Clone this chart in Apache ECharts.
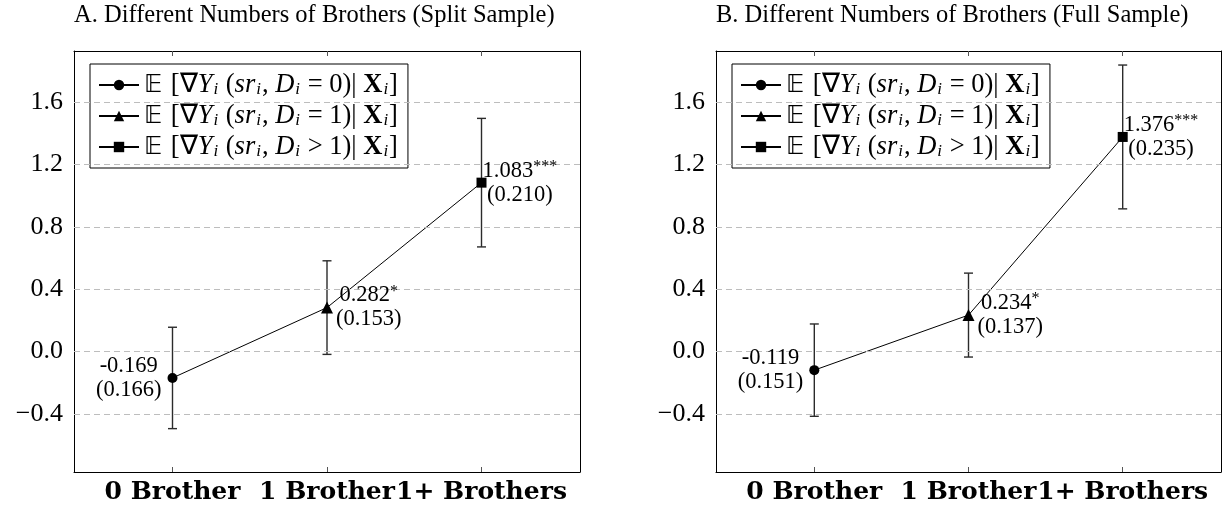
<!DOCTYPE html>
<html>
<head>
<meta charset="utf-8">
<script src="https://cdn.jsdelivr.net/npm/echarts@6/dist/echarts.min.js"></script>
<style>
  html, body { margin: 0; padding: 0; background: #fff; }
  #chart { width: 1225px; height: 512px; }
</style>
</head>
<body>
<div id="chart"></div>
<script>
// Categories and tick labels
const categories = ['0 Brother', '1 Brother', '1+ Brothers'];
const yTicks = [-0.4, 0.0, 0.4, 0.8, 1.2, 1.6];
const xTicks = [0, 1, 2];
const panelTitles = [
  'A. Different Numbers of Brothers (Split Sample)',
  'B. Different Numbers of Brothers (Full Sample)'
];
const seriesNames = ['D = 0', 'D = 1', 'D > 1'];
const legendConds = ['= 0', '= 1', '> 1'];
const stars = ['', '*', '***'];

// Panel A: split sample (estimate, standard error, 95% interval)
const splitEst  = [-0.169, 0.282, 1.083];
const splitSE   = [0.166, 0.153, 0.210];
const splitLow  = [-0.494, -0.018, 0.671];
const splitHigh = [0.156, 0.582, 1.495];

// Panel B: full sample
const fullEst  = [-0.119, 0.234, 1.376];
const fullSE   = [0.151, 0.137, 0.235];
const fullLow  = [-0.415, -0.035, 0.915];
const fullHigh = [0.177, 0.503, 1.837];

// Axis extents
const Y_MIN = -0.772, Y_MAX = 1.927;
const X_MIN = -0.6375, X_MAX = 2.6375;

const SERIF = '"Liberation Serif", "Times New Roman", serif';
const BOLD_SERIF = '"DejaVu Serif", serif';
const markers = ['circle', 'triangle', 'rect'];
const markerSizes = [10, 12, 10];
const labelSide = ['left', 'right', 'right'];
const labelDist = [6, 3, -4];

const panels = [
  { est: splitEst, se: splitSE, low: splitLow, high: splitHigh, grid: { left: 74, top: 51, width: 506, height: 421 } },
  { est: fullEst, se: fullSE, low: fullLow, high: fullHigh, grid: { left: 716, top: 51, width: 505, height: 421 } }
];

const grids = [], xAxes = [], yAxes = [], series = [], legends = [], titles = [];

const fmtY = v => (v < 0 ? '\u2212' : '') + Math.abs(v).toFixed(1);

panels.forEach((p, g) => {
  grids.push(Object.assign({ containLabel: false }, p.grid));

  const axisLine = { show: true, onZero: false, lineStyle: { color: '#000', width: 1 } };
  const tick = { show: true, inside: true, length: 5, lineStyle: { color: '#555', width: 1 } };

  xAxes.push({
    type: 'value', gridIndex: g, position: 'bottom', min: X_MIN, max: X_MAX,
    axisLine, axisTick: Object.assign({ customValues: xTicks }, tick),
    splitLine: { show: false },
    axisLabel: {
      customValues: xTicks, margin: 8,
      formatter: v => categories[Math.round(v)],
      fontFamily: BOLD_SERIF, fontWeight: 'bold', fontSize: 25, color: '#000'
    }
  });
  xAxes.push({
    type: 'value', gridIndex: g, position: 'top', min: X_MIN, max: X_MAX,
    axisLine, axisTick: Object.assign({ customValues: xTicks }, tick),
    splitLine: { show: false }, axisLabel: { show: false }
  });
  yAxes.push({
    type: 'value', gridIndex: g, position: 'left', min: Y_MIN, max: Y_MAX,
    axisLine, axisTick: Object.assign({ customValues: yTicks }, tick),
    splitLine: { show: false },
    axisLabel: {
      customValues: yTicks, margin: 11, formatter: fmtY,
      fontFamily: SERIF, fontSize: 26, color: '#000'
    }
  });
  yAxes.push({
    type: 'value', gridIndex: g, position: 'right', min: Y_MIN, max: Y_MAX,
    axisLine, axisTick: Object.assign({ customValues: yTicks }, tick),
    splitLine: { show: false }, axisLabel: { show: false }
  });

  const xi = 2 * g, yi = 2 * g;

  // dashed horizontal grid lines at the tick values
  series.push({
    type: 'line', xAxisIndex: xi, yAxisIndex: yi, data: [], z: 1, silent: true,
    markLine: {
      silent: true, symbol: 'none', label: { show: false },
      lineStyle: { color: '#bdbdbd', type: [6, 4], width: 1 },
      emphasis: { disabled: true },
      data: yTicks.map(v => ({ yAxis: v }))
    }
  });

  // line joining the three estimates
  series.push({
    type: 'line', xAxisIndex: xi, yAxisIndex: yi, z: 2, silent: true,
    data: p.est.map((v, i) => [i, v]),
    symbol: 'none', lineStyle: { color: '#000', width: 1 }
  });

  // confidence interval whiskers
  series.push({
    type: 'custom', xAxisIndex: xi, yAxisIndex: yi, z: 3, silent: true,
    data: p.est.map((v, i) => [i, p.low[i], p.high[i]]),
    encode: { x: 0, y: [1, 2] },
    renderItem: (params, api) => {
      const x = api.value(0);
      const lo = api.coord([x, api.value(1)]);
      const hi = api.coord([x, api.value(2)]);
      const w = 4.5;
      const st = { stroke: '#2b2b2b', lineWidth: 1.4 };
      return {
        type: 'group',
        children: [
          { type: 'line', shape: { x1: lo[0], y1: lo[1], x2: hi[0], y2: hi[1] }, style: st },
          { type: 'line', shape: { x1: lo[0] - w, y1: lo[1], x2: lo[0] + w, y2: lo[1] }, style: st },
          { type: 'line', shape: { x1: hi[0] - w, y1: hi[1], x2: hi[0] + w, y2: hi[1] }, style: st }
        ]
      };
    }
  });

  // one marker per category, labelled with estimate and standard error
  p.est.forEach((v, i) => {
    series.push({
      type: 'line', name: seriesNames[i], xAxisIndex: xi, yAxisIndex: yi, z: 5,
      data: [[i, v]],
      symbol: markers[i], symbolSize: markerSizes[i],
      itemStyle: { color: '#000' },
      lineStyle: { color: '#000', width: 1.2 },
      label: {
        show: true, position: labelSide[i], distance: labelDist[i],
        formatter: () => '{v|' + v.toFixed(3) + '}' + (stars[i] ? '{s|' + stars[i] + '}' : '') +
          '\n{v|(' + p.se[i].toFixed(3) + ')}',
        rich: {
          v: { fontFamily: SERIF, fontSize: 22.5, lineHeight: 24, color: '#000', align: 'center' },
          s: { fontFamily: SERIF, fontSize: 16, lineHeight: 24, color: '#000', align: 'center', verticalAlign: 'top' }
        }
      },
      emphasis: { disabled: true }
    });
  });

  legends.push({
    orient: 'vertical', left: p.grid.left + 16, top: 64,
    data: seriesNames, selectedMode: false,
    backgroundColor: '#fff', borderColor: '#000', borderWidth: 1,
    padding: [7.5, 10, 7.5, 8], itemGap: 4, itemWidth: 40, itemHeight: 13,
    formatter: name => {
      const c = legendConds[seriesNames.indexOf(name)];
      return '{bb|\u{1D53C}}{r| [\u2207}{it|Y}{sub|i}{r| (}{it|sr}{sub|i}{r|, }{it|D}{sub|i}{r| ' + c + ')| }{bx|X}{sub|i}{r|]}';
    },
    textStyle: {
      color: '#000', fontFamily: SERIF, fontSize: 26, lineHeight: 27,
      rich: {
        r: { fontFamily: SERIF, fontSize: 26.5, lineHeight: 27, color: '#000' },
        bb: { fontFamily: '"DejaVu Sans", sans-serif', fontSize: 25, lineHeight: 27, color: '#000', padding: [0, 2, 0, 0] },
        it: { fontFamily: SERIF, fontStyle: 'italic', fontSize: 26.5, lineHeight: 27, color: '#000' },
        bx: { fontFamily: SERIF, fontWeight: 'bold', fontSize: 26.5, lineHeight: 27, color: '#000' },
        sub: { fontFamily: SERIF, fontStyle: 'italic', fontSize: 17, lineHeight: 27, color: '#000', verticalAlign: 'bottom', padding: [0, 1, 0, 1] }
      }
    }
  });

  titles.push({
    text: panelTitles[g], left: p.grid.left, top: 4, padding: 0,
    textStyle: { fontFamily: SERIF, fontSize: 24.5, fontWeight: 'normal', color: '#000', lineHeight: 24 }
  });
});

const chart = echarts.init(document.getElementById('chart'), null, { renderer: 'canvas' });
chart.setOption({
  backgroundColor: '#fff',
  animation: false,
  title: titles,
  grid: grids,
  xAxis: xAxes,
  yAxis: yAxes,
  legend: legends,
  series: series
});
</script>
</body>
</html>
